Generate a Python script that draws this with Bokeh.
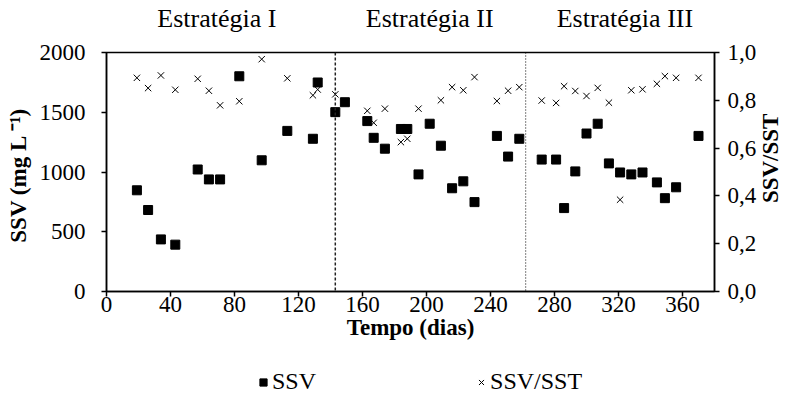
import math
from bokeh.plotting import figure
from bokeh.layouts import column
from bokeh.models import (Range1d, LinearAxis, FixedTicker, Span,
                          Legend, LegendItem)
from bokeh.embed import file_html
from bokeh.resources import INLINE

# ---------------- data ----------------
ssv_days = [19, 26, 34, 43, 57, 64, 71, 83, 97, 113, 129, 132, 143, 149, 163, 167,
            174, 184, 188, 195, 202, 209, 216, 223, 230, 244, 251, 258, 272, 281,
            286, 293, 300, 307, 314, 321, 328, 335, 344, 349, 356, 370]
ssv_vals = [847, 682, 436, 392, 1021, 938, 938, 1801, 1098, 1344, 1278, 1749, 1501,
            1584, 1426, 1286, 1195, 1360, 1360, 980, 1404, 1220, 864, 922, 748, 1302,
            1129, 1278, 1104, 1104, 698, 1005, 1322, 1404, 1072, 996, 980, 996, 913,
            781, 872, 1302]

ratio_days = [19, 26, 34, 43, 57, 64, 71, 83, 97, 113, 129, 132, 143, 163, 167, 174,
              184, 188, 195, 209, 216, 223, 230, 244, 251, 258, 272, 281, 286, 293,
              300, 307, 314, 321, 328, 335, 344, 349, 356, 370]
ratio_vals = [0.894, 0.851, 0.904, 0.844, 0.890, 0.840, 0.779, 0.796, 0.972, 0.892,
              0.821, 0.845, 0.825, 0.756, 0.706, 0.765, 0.625, 0.639, 0.765, 0.800,
              0.855, 0.842, 0.897, 0.797, 0.840, 0.855, 0.799, 0.789, 0.859, 0.839,
              0.818, 0.852, 0.790, 0.384, 0.842, 0.846, 0.869, 0.901, 0.894, 0.894]

x_ticks = [0, 40, 80, 120, 160, 200, 240, 280, 320, 360]
y_ticks = [0, 500, 1000, 1500, 2000]
ratio_ticks = [0.0, 0.2, 0.4, 0.6, 0.8, 1.0]
ratio_tick_labels = ["0,0", "0,2", "0,4", "0,6", "0,8", "1,0"]

strategy_names = ["Estratégia I", "Estratégia II", "Estratégia III"]
strategy_centers = [69, 202, 324]
strategy_bounds = [143, 262]

FONT = "Liberation Serif"
TICK_SIZE = "23px"
TITLE_SIZE = "23px"
RIGHT_TITLE_ANCHOR = 0.37   # where the rotated right-hand title starts

p = figure(width=798, height=360, x_range=Range1d(0, 380), y_range=Range1d(0, 2000),
           output_backend="svg", toolbar_location=None,
           min_border_left=106, min_border_right=81, min_border_top=50,
           min_border_bottom=69)
p.extra_y_ranges = {"ratio": Range1d(0, 1)}
p.grid.visible = False
p.outline_line_color = "black"
p.outline_line_width = 1.5
p.background_fill_color = "white"
p.border_fill_color = "white"


def style_axis(ax):
    ax.axis_line_color = "black"
    ax.axis_line_width = 1.5
    ax.major_tick_line_color = "black"
    ax.major_tick_line_width = 1.5
    ax.major_tick_in = 0
    ax.major_tick_out = 5
    ax.minor_tick_line_color = None
    ax.major_label_text_font = FONT
    ax.major_label_text_font_size = TICK_SIZE
    ax.major_label_text_color = "black"
    ax.axis_label_text_font = FONT
    ax.axis_label_text_font_size = TITLE_SIZE
    ax.axis_label_text_font_style = "bold"
    ax.axis_label_text_color = "black"


xa = p.xaxis[0]
style_axis(xa)
xa.ticker = FixedTicker(ticks=x_ticks)
xa.axis_label = "Tempo (dias)"
xa.major_label_standoff = 0
xa.axis_label_standoff = 0

ya = p.yaxis[0]
style_axis(ya)
ya.ticker = FixedTicker(ticks=y_ticks)
ya.axis_label = "SSV (mg  L \u207b\u00b9)"
ya.major_label_standoff = 16
ya.axis_label_standoff = 6

ra = LinearAxis(y_range_name="ratio")
style_axis(ra)
ra.ticker = FixedTicker(ticks=ratio_ticks)
ra.major_label_overrides = {t: l for t, l in zip(ratio_ticks, ratio_tick_labels)}
ra.major_label_standoff = 8
p.add_layout(ra, "right")

# right-hand title, rotated to read bottom-to-top
rt = LinearAxis(y_range_name="ratio")
rt.ticker = FixedTicker(ticks=[RIGHT_TITLE_ANCHOR])
rt.major_label_overrides = {RIGHT_TITLE_ANCHOR: "SSV/SST"}
rt.major_label_orientation = math.pi / 2
rt.axis_line_color = None
rt.major_tick_line_color = None
rt.minor_tick_line_color = None
rt.major_tick_out = 0
rt.major_label_standoff = 11
rt.major_label_text_font = FONT
rt.major_label_text_font_size = TITLE_SIZE
rt.major_label_text_font_style = "bold"
rt.major_label_text_color = "black"
p.add_layout(rt, "right")

# strategy names shown along the top edge
ta = LinearAxis()
ta.ticker = FixedTicker(ticks=strategy_centers)
ta.major_label_overrides = {c: n for c, n in zip(strategy_centers, strategy_names)}
ta.axis_line_color = None
ta.major_tick_line_color = None
ta.minor_tick_line_color = None
ta.major_label_standoff = 14
ta.major_label_text_font = FONT
ta.major_label_text_font_size = "26px"
ta.major_label_text_color = "black"
p.add_layout(ta, "above")

# strategy separators
p.add_layout(Span(location=strategy_bounds[0], dimension="height",
                  line_color="#222222", line_width=1.5, line_dash="3 2"))
p.add_layout(Span(location=strategy_bounds[1], dimension="height",
                  line_color="black", line_width=1, line_dash="1 2"))

# data
p.scatter(ssv_days, ssv_vals, marker="square", size=9,
          fill_color="black", line_color="black")
p.scatter(ratio_days, ratio_vals, marker="x", size=9,
          line_color="black", line_width=1, y_range_name="ratio")

# legend strip below the chart (its sample points lie outside its own view)
lg = figure(width=798, height=38, x_range=Range1d(-2, -1), y_range=Range1d(-2, -1),
            output_backend="svg", toolbar_location=None,
            x_axis_location=None, y_axis_location=None,
            min_border=0, min_border_left=0, min_border_right=0,
            min_border_top=0, min_border_bottom=0)
lg.grid.visible = False
lg.outline_line_color = None
lg.background_fill_color = "white"
lg.border_fill_color = "white"
k_ssv = lg.scatter(x=ssv_days[:1], y=ssv_vals[:1], marker="square", size=9,
                   fill_color="black", line_color="black")
k_ratio = lg.scatter(x=ratio_days[:1], y=ratio_vals[:1], marker="x", size=9,
                     line_color="black", line_width=1)
legend = Legend(items=[LegendItem(label="SSV", renderers=[k_ssv]),
                       LegendItem(label="SSV/SST", renderers=[k_ratio])],
                orientation="horizontal", location=(148, 3),
                padding=0, margin=0, spacing=156, glyph_width=18, glyph_height=20,
                label_standoff=0, label_text_font=FONT, label_text_font_size="24px",
                label_text_color="black",
                border_line_alpha=0, background_fill_alpha=0)
lg.add_layout(legend)

layout = column(p, lg, spacing=0)
open("out.html", "w").write(file_html(layout, INLINE))
